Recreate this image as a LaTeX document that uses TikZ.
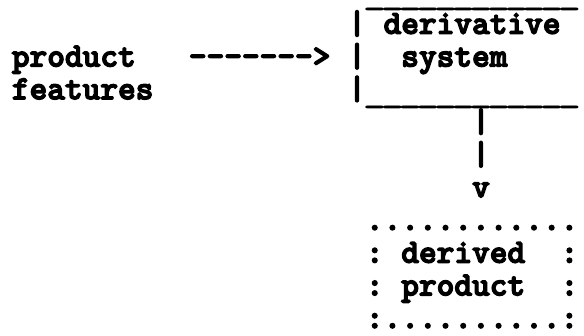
\documentclass[tikz,border=0pt]{standalone}
\usepackage{graphicx}
\usepackage{fontspec}
\newfontfamily\courb{lmmonolt10-bold.otf}[FakeBold=4]
\newfontfamily\courl{lmmonolt10-bold.otf}
\newcommand\hy{\mbox{-}}
\newcommand\us{\makebox[0.525em][c]{\courl\scalebox{1.3}[1]{\_}}}
\tikzset{
  txt/.style={inner sep=0pt, outer sep=0pt, anchor=base west,
    font=\fontsize{33.7}{40}\selectfont\courb},
  usl/.style={txt, yshift=-4pt, text height=0pt, text depth=3pt},
}
\begin{document}
\begin{tikzpicture}
\useasboundingbox (0,0) rectangle (584pt,-335pt);
\begin{scope}[x=17.7pt,y=-32.7pt,shift={(11.9pt,-1.1pt)}]
  % derivative system box
  \node[usl] (dsTop) at (20,0) {\us\us\us\us\us\us\us\us\us\us\us\us};
  \node[txt] (dsL1) at (19,1) {|};
  \node[txt] (dsT1) at (21,1) {derivative};
  \node[txt] (dsL2) at (19,2) {|};
  \node[txt] (dsT2) at (22,2) {system};
  \node[txt] (dsL3) at (19,3) {|};
  \node[usl] (dsBot) at (20,3) {\us\us\us\us\us\us\us\us\us\us\us\us};
  % product features
  \node[txt] (pf1) at (0,2) {product};
  \node[txt] (pf2) at (0,3) {features};
  \node[txt] (arr) at (10,2) {\hy\hy\hy\hy\hy\hy\hy>};
  % down arrow
  \node[txt] (dn1) at (26,4) {|};
  \node[txt] (dn2) at (26,5) {|};
  \node[txt] (dnv) at (26,6) {v};
  % derived product box
  \node[txt] (dpTop) at (20,7) {............};
  \node[txt] (dpL1) at (20,8) {:};
  \node[txt] (dpT1) at (22,8) {derived};
  \node[txt] (dpR1) at (31,8) {:};
  \node[txt] (dpL2) at (20,9) {:};
  \node[txt] (dpT2) at (22,9) {product};
  \node[txt] (dpR2) at (31,9) {:};
  \node[txt] (dpBot) at (20,10) {:..........:};
\end{scope}
\end{tikzpicture}
\end{document}
